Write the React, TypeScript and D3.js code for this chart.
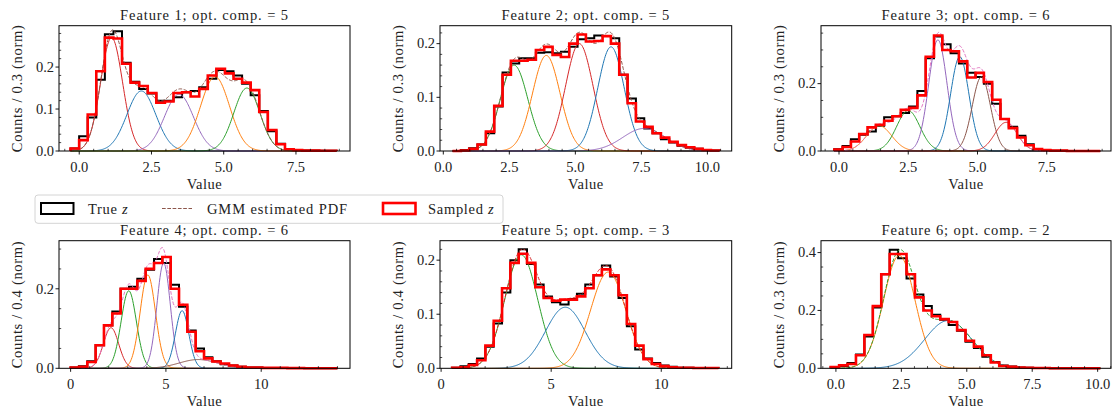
import React, { useEffect, useRef } from 'react';
import * as d3 from 'd3';

const FONT = '"Liberation Serif", "Times New Roman", serif';
const TAB10 = d3.schemeCategory10;

// ---- values ----
const optComp = [5, 5, 6, 6, 3, 2];
const binLabel = ['0.3', '0.3', '0.3', '0.4', '0.4', '0.3'];
const binStart = [-0.3, 0.35, -0.17, 0, 0.5, -0.2];
const binWidth = [0.2968, 0.3156, 0.3, 0.4375, 0.378, 0.322];

const trueZ1 = [0.006, 0.035, 0.08, 0.17, 0.278, 0.285, 0.21, 0.165, 0.148, 0.137, 0.12, 0.12, 0.128, 0.14, 0.143, 0.152, 0.172, 0.193, 0.19, 0.18, 0.16, 0.133, 0.095, 0.047, 0.017, 0.005, 0.002, 0.001, 0.001, 0.0005, 0.0005];
const sampledZ1 = [0.006, 0.026, 0.087, 0.19, 0.27, 0.268, 0.208, 0.163, 0.155, 0.138, 0.115, 0.118, 0.138, 0.14, 0.13, 0.148, 0.18, 0.196, 0.185, 0.172, 0.163, 0.145, 0.093, 0.05, 0.016, 0.004, 0.002, 0.001, 0.001, 0.0005, 0.0005];

const trueZ2 = [0, 0.002, 0.005, 0.012, 0.033, 0.083, 0.146, 0.163, 0.173, 0.173, 0.183, 0.184, 0.182, 0.185, 0.194, 0.208, 0.21, 0.215, 0.214, 0.21, 0.142, 0.098, 0.061, 0.042, 0.033, 0.022, 0.016, 0.01, 0.006, 0.004, 0.002, 0.001];
const sampledZ2 = [0, 0.001, 0.004, 0.012, 0.036, 0.084, 0.142, 0.168, 0.168, 0.17, 0.188, 0.194, 0.179, 0.175, 0.2, 0.217, 0.204, 0.205, 0.214, 0.2, 0.142, 0.089, 0.055, 0.045, 0.033, 0.025, 0.017, 0.011, 0.007, 0.004, 0.002, 0.001];

const trueZ3 = [0.005, 0.015, 0.035, 0.048, 0.058, 0.075, 0.1, 0.103, 0.113, 0.132, 0.178, 0.275, 0.34, 0.317, 0.29, 0.26, 0.232, 0.22, 0.2, 0.14, 0.095, 0.072, 0.045, 0.02, 0.006, 0.003, 0.001, 0.001, 0, 0, 0, 0];
const sampledZ3 = [0.004, 0.012, 0.028, 0.05, 0.07, 0.078, 0.09, 0.103, 0.122, 0.128, 0.165, 0.28, 0.343, 0.3, 0.296, 0.266, 0.218, 0.232, 0.205, 0.152, 0.095, 0.068, 0.04, 0.017, 0.006, 0.003, 0.001, 0.001, 0, 0, 0, 0];

const trueZ4 = [0.002, 0.005, 0.018, 0.058, 0.108, 0.143, 0.2, 0.205, 0.225, 0.248, 0.275, 0.265, 0.21, 0.155, 0.095, 0.05, 0.028, 0.018, 0.01, 0.007, 0.004, 0.002, 0.002, 0.001, 0.001, 0.001, 0.0005, 0.0005, 0, 0, 0, 0];
const sampledZ4 = [0.002, 0.004, 0.016, 0.058, 0.108, 0.138, 0.2, 0.2, 0.22, 0.25, 0.265, 0.28, 0.2, 0.16, 0.092, 0.043, 0.025, 0.017, 0.012, 0.007, 0.004, 0.002, 0.002, 0.001, 0.001, 0.001, 0.0005, 0.0005, 0, 0, 0, 0];

const trueZ5 = [0.001, 0.004, 0.008, 0.018, 0.04, 0.083, 0.14, 0.2, 0.22, 0.193, 0.155, 0.133, 0.122, 0.118, 0.128, 0.138, 0.155, 0.172, 0.19, 0.17, 0.13, 0.078, 0.035, 0.018, 0.01, 0.005, 0.003, 0.001, 0.001, 0.0005, 0.0005, 0.0005];
const sampledZ5 = [0.001, 0.002, 0.006, 0.015, 0.042, 0.088, 0.148, 0.195, 0.212, 0.195, 0.15, 0.13, 0.125, 0.127, 0.127, 0.133, 0.148, 0.172, 0.183, 0.172, 0.135, 0.082, 0.042, 0.017, 0.008, 0.004, 0.002, 0.001, 0.001, 0.0005, 0.0005, 0.0005];

const trueZ6 = [0.004, 0.008, 0.018, 0.048, 0.11, 0.21, 0.325, 0.41, 0.38, 0.31, 0.255, 0.215, 0.185, 0.168, 0.15, 0.13, 0.092, 0.07, 0.04, 0.022, 0.01, 0.006, 0.003, 0.002, 0.001, 0.001, 0, 0, 0, 0, 0, 0];
const sampledZ6 = [0.004, 0.01, 0.015, 0.045, 0.115, 0.215, 0.325, 0.395, 0.395, 0.325, 0.245, 0.2, 0.18, 0.17, 0.16, 0.132, 0.095, 0.075, 0.045, 0.02, 0.008, 0.005, 0.003, 0.002, 0.001, 0.001, 0, 0, 0, 0, 0, 0];

// GMM components: [mean, sigma, peak height, colour index in tab10]
const comps1 = [[1.12, 0.38, 0.27, 3], [2.15, 0.5, 0.143, 0], [3.45, 0.5, 0.135, 4], [4.7, 0.5, 0.177, 1], [5.8, 0.45, 0.15, 2]];
const comps2 = [[2.68, 0.52, 0.16, 2], [3.9, 0.52, 0.178, 1], [5.15, 0.52, 0.2, 3], [6.35, 0.5, 0.194, 0], [7.6, 0.8, 0.042, 4]];
const comps3 = [[1.45, 0.45, 0.075, 1], [2.5, 0.42, 0.12, 2], [3.57, 0.33, 0.33, 4], [4.36, 0.33, 0.28, 0], [5.14, 0.33, 0.22, 5], [6.03, 0.4, 0.085, 3]];
const comps4 = [[2.12, 0.4, 0.102, 3], [3.05, 0.4, 0.195, 2], [4.05, 0.4, 0.235, 1], [4.88, 0.35, 0.265, 4], [5.85, 0.35, 0.145, 0], [6.7, 1.0, 0.022, 5]];
const comps5 = [[3.64, 0.75, 0.21, 2], [5.64, 0.9, 0.113, 0], [7.59, 0.8, 0.178, 1]];
const comps6 = [[2.42, 0.6, 0.39, 1], [4.29, 0.9, 0.165, 0]];
const pdfColor = [5, 5, 6, 6, 3, 2];

// axis limits and ticks
const xLimits = [[-0.7, 9.37], [-0.125, 10.92], [-0.65, 9.82], [-0.61, 14.66], [-0.05, 13.2], [-0.57, 10.51]];
const yTop = [0.2985, 0.2334, 0.372, 0.321, 0.236, 0.441];
const xMajor = [2.5, 2.5, 2.5, 5, 5, 2.5];
const xMinor = [0.5, 0.5, 0.5, 1, 1, 0.5];
const yMajor = [0.1, 0.1, 0.2, 0.2, 0.1, 0.2];
const yMinor = [0.02, 0.02, 0.05, 0.05, 0.02, 0.05];

const trueZ = [trueZ1, trueZ2, trueZ3, trueZ4, trueZ5, trueZ6];
const sampledZ = [sampledZ1, sampledZ2, sampledZ3, sampledZ4, sampledZ5, sampledZ6];
const comps = [comps1, comps2, comps3, comps4, comps5, comps6];

// subplot boxes (px)
const colX = [[59, 350], [440, 731.7], [821, 1111]];
const rowY = [[25.7, 151], [240.7, 368.3]];

function tickValues(d0: number, d1: number, step: number) {
  return d3.range(Math.ceil(d0 / step - 1e-9), Math.floor(d1 / step + 1e-9) + 1).map(k => +(k * step).toFixed(6));
}

export default function App() {
  const svgRef = useRef<SVGSVGElement>(null);

  useEffect(() => {
    const svg = d3.select(svgRef.current);
    svg.selectAll('*').remove();
    svg.append('rect').attr('width', 1113).attr('height', 410).attr('fill', '#fff');

    for (let p = 0; p < 6; p++) {
      const [x0, x1] = colX[p % 3];
      const [y0, y1] = rowY[Math.floor(p / 3)];
      const x = d3.scaleLinear().domain(xLimits[p]).range([x0, x1]);
      const y = d3.scaleLinear().domain([0, yTop[p]]).range([y1, y0]);
      const g = svg.append('g');

      const lo = binStart[p];
      const w = binWidth[p];
      const n = trueZ[p].length;
      const hi = lo + n * w;

      const line = d3.line<[number, number]>().x(d => x(d[0])).y(d => y(d[1]));
      const step = (vals: number[]) => {
        const pts: [number, number][] = [[lo, 0]];
        vals.forEach((v, i) => {
          pts.push([lo + i * w, v], [lo + (i + 1) * w, v]);
        });
        pts.push([hi, 0]);
        return line(pts);
      };

      // true z histogram
      g.append('path')
        .attr('d', step(trueZ[p]))
        .attr('fill', 'none')
        .attr('stroke', '#000')
        .attr('stroke-width', 2)
        .attr('stroke-linejoin', 'miter');

      // GMM components and total pdf
      const grid = d3.range(0, 401).map(i => lo + (hi - lo) * i / 400);
      const gauss = (c: number[], v: number) => c[2] * Math.exp(-0.5 * ((v - c[0]) / c[1]) ** 2);
      comps[p].forEach(c => {
        g.append('path')
          .attr('d', line(grid.map(v => [v, gauss(c, v)] as [number, number])))
          .attr('fill', 'none')
          .attr('stroke', TAB10[c[3]])
          .attr('stroke-width', 1);
      });
      g.append('path')
        .attr('d', line(grid.map(v => [v, d3.sum(comps[p], c => gauss(c, v))] as [number, number])))
        .attr('fill', 'none')
        .attr('stroke', TAB10[pdfColor[p]])
        .attr('stroke-width', 1)
        .attr('stroke-dasharray', '3.7,1.6');

      // sampled z histogram
      g.append('path')
        .attr('d', step(sampledZ[p]))
        .attr('fill', 'none')
        .attr('stroke', '#ff0000')
        .attr('stroke-width', 2.6)
        .attr('stroke-linejoin', 'miter');

      // frame
      g.append('rect')
        .attr('x', x0).attr('y', y0)
        .attr('width', x1 - x0).attr('height', y1 - y0)
        .attr('fill', 'none').attr('stroke', '#000').attr('stroke-width', 1);

      // x ticks
      const xd = xLimits[p];
      const xt = tickValues(xd[0], xd[1], xMajor[p]);
      const xm = tickValues(xd[0], xd[1], xMinor[p]).filter(v => !xt.some(t => Math.abs(t - v) < 1e-6));
      g.selectAll(null).data(xt).enter().append('line')
        .attr('x1', d => x(d)).attr('x2', d => x(d))
        .attr('y1', y1).attr('y2', y1 + 3.5)
        .attr('stroke', '#000').attr('stroke-width', 0.9);
      g.selectAll(null).data(xm).enter().append('line')
        .attr('x1', d => x(d)).attr('x2', d => x(d))
        .attr('y1', y1).attr('y2', y1 - 2.2)
        .attr('stroke', '#000').attr('stroke-width', 0.7);
      const xfmt = xMajor[p] % 1 === 0 ? d3.format('d') : d3.format('.1f');
      g.selectAll(null).data(xt).enter().append('text')
        .attr('x', d => x(d)).attr('y', y1 + 20.5)
        .attr('text-anchor', 'middle')
        .attr('font-family', FONT).attr('font-size', 14.5).attr('fill', '#222')
        .text(d => xfmt(d));

      // y ticks
      const yt = tickValues(0, yTop[p], yMajor[p]);
      const ym = tickValues(0, yTop[p], yMinor[p]).filter(v => !yt.some(t => Math.abs(t - v) < 1e-6));
      g.selectAll(null).data(yt).enter().append('line')
        .attr('x1', x0 - 3.5).attr('x2', x0)
        .attr('y1', d => y(d)).attr('y2', d => y(d))
        .attr('stroke', '#000').attr('stroke-width', 0.9);
      g.selectAll(null).data(ym).enter().append('line')
        .attr('x1', x0).attr('x2', x0 + 2.2)
        .attr('y1', d => y(d)).attr('y2', d => y(d))
        .attr('stroke', '#000').attr('stroke-width', 0.7);
      g.selectAll(null).data(yt).enter().append('text')
        .attr('x', x0 - 5).attr('y', d => y(d)).attr('dy', '0.33em')
        .attr('text-anchor', 'end')
        .attr('font-family', FONT).attr('font-size', 14.5).attr('fill', '#222')
        .text(d => d3.format('.1f')(d));

      // title and labels
      g.append('text')
        .attr('x', (x0 + x1) / 2).attr('y', y0 - 6)
        .attr('text-anchor', 'middle')
        .attr('font-family', FONT).attr('font-size', 14.5).attr('letter-spacing', 0.9).attr('fill', '#222')
        .text(`Feature ${p + 1}; opt. comp. = ${optComp[p]}`);
      g.append('text')
        .attr('x', (x0 + x1) / 2).attr('y', y1 + 37.5)
        .attr('text-anchor', 'middle')
        .attr('font-family', FONT).attr('font-size', 14.5).attr('letter-spacing', 0.5).attr('fill', '#222')
        .text('Value');
      g.append('text')
        .attr('transform', `translate(${x0 - 37},${(y0 + y1) / 2}) rotate(-90)`)
        .attr('text-anchor', 'middle')
        .attr('font-family', FONT).attr('font-size', 14.5).attr('letter-spacing', 0.7).attr('fill', '#222')
        .text(`Counts / ${binLabel[p]} (norm)`);
    }

    // legend
    const lg = svg.append('g');
    lg.append('rect')
      .attr('x', 35).attr('y', 195).attr('width', 468).attr('height', 28.3)
      .attr('rx', 3).attr('fill', '#fff').attr('fill-opacity', 0.8)
      .attr('stroke', '#d4d4d4').attr('stroke-width', 1);
    lg.append('rect')
      .attr('x', 41).attr('y', 203).attr('width', 32.5).attr('height', 11)
      .attr('fill', 'none').attr('stroke', '#000').attr('stroke-width', 2);
    lg.append('line')
      .attr('x1', 162).attr('x2', 192).attr('y1', 208.5).attr('y2', 208.5)
      .attr('stroke', TAB10[5]).attr('stroke-width', 1).attr('stroke-dasharray', '3.7,1.6');
    lg.append('rect')
      .attr('x', 383).attr('y', 203).attr('width', 32.5).attr('height', 11)
      .attr('fill', 'none').attr('stroke', '#ff0000').attr('stroke-width', 2.6);
    const t1 = lg.append('text').attr('x', 88).attr('y', 214)
      .attr('font-family', FONT).attr('font-size', 14.5).attr('letter-spacing', 0.7).attr('fill', '#222');
    t1.append('tspan').text('True ');
    t1.append('tspan').attr('font-style', 'italic').text('z');
    lg.append('text').attr('x', 207).attr('y', 214)
      .attr('font-family', FONT).attr('font-size', 14.5).attr('letter-spacing', 0.9).attr('fill', '#222')
      .text('GMM estimated PDF');
    const t3 = lg.append('text').attr('x', 428).attr('y', 214)
      .attr('font-family', FONT).attr('font-size', 14.5).attr('letter-spacing', 0.7).attr('fill', '#222');
    t3.append('tspan').text('Sampled ');
    t3.append('tspan').attr('font-style', 'italic').text('z');
  }, []);

  return (
    <svg
      ref={svgRef}
      width={1113}
      height={410}
      style={{ position: 'absolute', left: 0, top: 0 }}
    />
  );
}
